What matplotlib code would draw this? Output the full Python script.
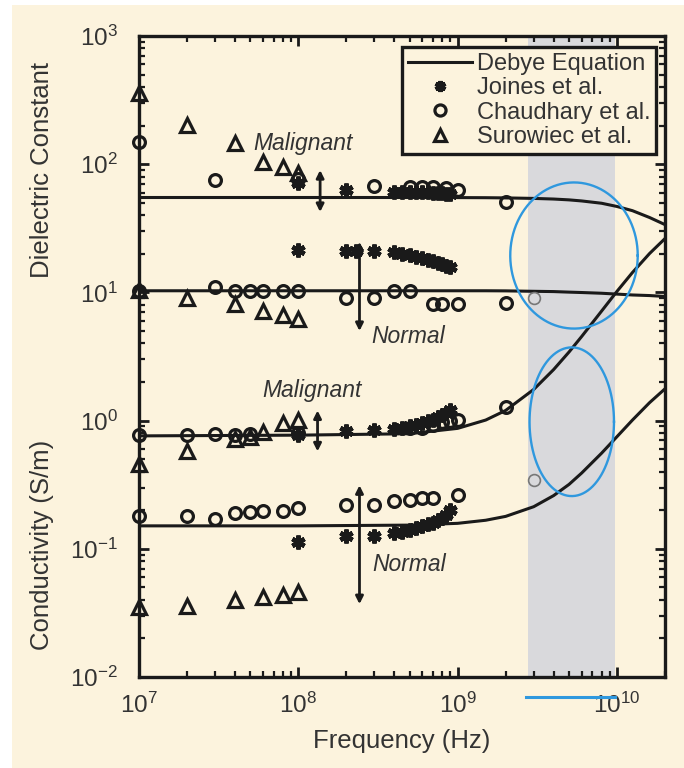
import numpy as np
import matplotlib
matplotlib.use("Agg")
import matplotlib.pyplot as plt
from matplotlib.patches import Rectangle
from matplotlib.lines import Line2D

plt.rcParams['font.family'] = ['Liberation Sans', 'DejaVu Sans']
plt.rcParams['mathtext.fontset'] = 'custom'
plt.rcParams['mathtext.rm'] = 'Liberation Sans'
plt.rcParams['mathtext.default'] = 'regular'

# ---------------- Debye model curves ----------------
debye_freq = [1e7, 1e8, 5e8, 1e9, 1.5e9, 2e9, 3e9, 4e9, 5e9, 6e9, 8e9, 1e10, 1.25e10, 1.6e10, 2e10]
debye_eps_malignant = [55, 55, 55, 54.9, 54.8, 54.6, 54.1, 53.5, 52.7, 51.7, 49.6, 46.8, 43.4, 38.4, 33.8]
debye_eps_normal = [10.3, 10.3, 10.3, 10.3, 10.3, 10.28, 10.2, 10.15, 10.05, 9.98, 9.85, 9.7, 9.55, 9.45, 9.3]
debye_sig_malignant = [0.76, 0.77, 0.79, 0.87, 1.01, 1.2, 1.75, 2.5, 3.43, 4.53, 7.15, 10.2, 14.3, 20.1, 26.3]
debye_sig_normal = [0.151, 0.151, 0.153, 0.158, 0.167, 0.179, 0.213, 0.26, 0.318, 0.39, 0.557, 0.75, 1.01, 1.38, 1.77]

# ---------------- Surowiec et al. ----------------
sur_eps_mal_f = [1e7, 2e7, 4e7, 6e7, 8e7, 1e8]
sur_eps_mal_v = [360, 202, 146, 104, 95, 86]
sur_eps_nor_f = [1e7, 2e7, 4e7, 6e7, 8e7, 1e8]
sur_eps_nor_v = [10.5, 9.1, 8.1, 7.1, 6.7, 6.2]
sur_sig_mal_f = [1e7, 2e7, 4e7, 5e7, 6e7, 8e7, 1e8]
sur_sig_mal_v = [0.46, 0.58, 0.72, 0.74, 0.82, 0.95, 1.02]
sur_sig_nor_f = [1e7, 2e7, 4e7, 6e7, 8e7, 1e8]
sur_sig_nor_v = [0.035, 0.036, 0.040, 0.042, 0.044, 0.046]

# ---------------- Chaudhary et al. ----------------
cha_eps_mal_f = [1e7, 3e7, 1e8, 3e8, 5e8, 6e8, 7e8, 8.5e8, 1e9, 2e9]
cha_eps_mal_v = [149, 75, 76, 68, 66, 66, 66, 65, 63, 51]
cha_eps_nor_f = [1e7, 3e7, 4e7, 5e7, 6e7, 8e7, 1e8, 2e8, 3e8, 4e8, 5e8, 7e8, 8e8, 1e9, 2e9]
cha_eps_nor_v = [10.3, 11.1, 10.2, 10.2, 10.2, 10.2, 10.2, 9.1, 9.1, 10.2, 10.2, 8.1, 8.1, 8.1, 8.3]
cha_sig_mal_f = [1e7, 2e7, 3e7, 4e7, 5e7, 1e8, 5e8, 6e8, 7e8, 8e8, 9e8, 1e9, 2e9]
cha_sig_mal_v = [0.77, 0.77, 0.78, 0.77, 0.78, 0.80, 0.87, 0.88, 0.92, 0.97, 1.0, 1.02, 1.28]
cha_sig_nor_f = [1e7, 2e7, 3e7, 4e7, 5e7, 6e7, 8e7, 1e8, 2e8, 3e8, 4e8, 5e8, 6e8, 7e8, 1e9]
cha_sig_nor_v = [0.180, 0.180, 0.171, 0.190, 0.195, 0.197, 0.197, 0.208, 0.219, 0.219, 0.236, 0.240, 0.249, 0.249, 0.262]

# ---------------- Joines et al. ----------------
joi_eps_mal_f = [1e8, 2e8, 4e8, 4.5e8, 5e8, 5.5e8, 6e8, 6.5e8, 7e8, 7.5e8, 8e8, 8.5e8, 9e8]
joi_eps_mal_v = [71, 63, 61, 61, 61, 61, 61, 61, 60, 60, 60, 59, 59]
joi_eps_nor_f = [1e8, 2e8, 2.3e8, 3e8, 4e8, 4.5e8, 5e8, 5.5e8, 6e8, 6.5e8, 7e8, 7.5e8, 8e8, 8.5e8, 9e8]
joi_eps_nor_v = [21.5, 21, 21, 21, 20.5, 20, 19.5, 19, 18.5, 18, 17.5, 17, 16.6, 16.2, 15.8]
joi_sig_mal_f = [1e8, 2e8, 3e8, 4e8, 4.5e8, 5e8, 5.5e8, 6e8, 6.5e8, 7e8, 7.5e8, 8e8, 8.5e8, 9e8]
joi_sig_mal_v = [0.77, 0.83, 0.84, 0.86, 0.88, 0.9, 0.93, 0.96, 0.99, 1.02, 1.06, 1.1, 1.14, 1.2]
joi_sig_nor_f = [1e8, 2e8, 3e8, 4e8, 4.5e8, 5e8, 5.5e8, 6e8, 6.5e8, 7e8, 7.5e8, 8e8, 8.5e8, 9e8]
joi_sig_nor_v = [0.113, 0.126, 0.125, 0.133, 0.135, 0.14, 0.145, 0.15, 0.155, 0.16, 0.167, 0.175, 0.185, 0.2]

# ---------------- extra measurements inside the shaded band ----------------
band_meas_f = [3e9, 3e9]
band_meas_v = [9.1, 0.343]

# ---------------- spread arrows: (frequency, low, high) ----------------
arrow_f = [1.37e8, 2.42e8, 1.32e8, 2.42e8]
arrow_lo = [42.4, 5.0, 0.575, 0.037]
arrow_hi = [90, 24.8, 1.2, 0.313]

# shaded band and highlight ellipses (centre freq, centre value, half-width and half-height in decades)
band_lo, band_hi = 2.75e9, 9.7e9
ellipse_params = [(5.37e9, 19.4, 0.40, 0.57), (5.2e9, 0.98, 0.265, 0.58)]

region_labels = [("Malignant", 5.2e7, 146), ("Normal", 2.88e8, 4.57),
                 ("Malignant", 5.9e7, 1.73), ("Normal", 2.9e8, 0.0748)]

cream = '#fcf3dd'
ink = '#1a1a1a'
text_col = '#333333'
blue = '#2f98de'

fig = plt.figure(figsize=(6.84, 7.68), dpi=100)
fig.patch.set_facecolor('white')
fig.add_artist(Rectangle((12 / 684, 0), 1, 1 - 5 / 768, transform=fig.transFigure,
                         facecolor=cream, edgecolor='none', zorder=-10))

ax = fig.add_axes([0.2032, 0.1185, 0.769, 0.8346])
ax.set_facecolor(cream)
ax.set_xscale('log')
ax.set_yscale('log')
ax.set_xlim(1e7, 2e10)
ax.set_ylim(1e-2, 1e3)

ax.axvspan(band_lo, band_hi, color='#d9d9dc', zorder=0, lw=0)

lw_curve = 2.2
for ys in (debye_eps_malignant, debye_eps_normal, debye_sig_malignant, debye_sig_normal):
    ax.plot(debye_freq, ys, color=ink, lw=lw_curve, zorder=3)

mk_common = dict(linestyle='none', zorder=4, clip_on=False)
sur_f = sur_eps_mal_f + sur_eps_nor_f + sur_sig_mal_f + sur_sig_nor_f
sur_v = sur_eps_mal_v + sur_eps_nor_v + sur_sig_mal_v + sur_sig_nor_v
ax.plot(sur_f, sur_v, marker='^', ms=9.5, mfc='none', mec=ink, mew=2.3, **mk_common)

cha_f = cha_eps_mal_f + cha_eps_nor_f + cha_sig_mal_f + cha_sig_nor_f
cha_v = cha_eps_mal_v + cha_eps_nor_v + cha_sig_mal_v + cha_sig_nor_v
ax.plot(cha_f, cha_v, marker='o', ms=8.5, mfc='none', mec=ink, mew=2.3, **mk_common)

joi_f = joi_eps_mal_f + joi_eps_nor_f + joi_sig_mal_f + joi_sig_nor_f
joi_v = joi_eps_mal_v + joi_eps_nor_v + joi_sig_mal_v + joi_sig_nor_v
ax.plot(joi_f, joi_v, marker=(6, 2, 0), ms=10, mfc=ink, mec=ink, mew=3.2, **mk_common)

ax.plot(band_meas_f, band_meas_v, linestyle='none', marker='o', ms=8.5, mfc='none',
        mec='#777777', mew=1.2, zorder=4)

for f, lo, hi in zip(arrow_f, arrow_lo, arrow_hi):
    ax.annotate('', xy=(f, hi), xytext=(f, lo),
                arrowprops=dict(arrowstyle='<|-|>', color=ink, lw=2.0,
                                mutation_scale=11, shrinkA=0, shrinkB=0), zorder=5)

for txt, f, v in region_labels:
    ax.text(f, v, txt, fontsize=16.5, style='italic', color=text_col,
            ha='left', va='center', zorder=6)

# highlight ellipses drawn in log space
t = np.linspace(0, 2 * np.pi, 300)
for cf, cv, a, b in ellipse_params:
    ax.plot(10 ** (np.log10(cf) + a * np.cos(t)), 10 ** (np.log10(cv) + b * np.sin(t)),
            color=blue, lw=1.7, zorder=7)

# blue bar under the frequency axis marking the band
ax.plot([band_lo * 0.97, band_hi], [-0.031, -0.031], color=blue, lw=2.2,
        transform=ax.get_xaxis_transform(), clip_on=False, zorder=7)

for s in ax.spines.values():
    s.set_linewidth(2.4)
    s.set_color(ink)
    s.set_zorder(8)
ax.tick_params(which='both', direction='in', top=True, right=True, color=ink,
               labelcolor=text_col, labelsize=17.5)
ax.tick_params(which='major', length=7, width=2.0)
ax.tick_params(axis='x', which='major', pad=11)
ax.tick_params(axis='y', which='major', pad=15)
ax.tick_params(which='minor', length=4, width=1.6)
ax.set_xticks([1e7, 1e8, 1e9, 1e10])
ax.set_yticks([1e-2, 1e-1, 1e0, 1e1, 1e2, 1e3])

ax.set_xlabel('Frequency (Hz)', fontsize=18.5, color=text_col, labelpad=8)
fig.text(42 / 684, 1 - 170 / 768, 'Dielectric Constant', rotation=90, fontsize=18.5,
         color=text_col, ha='center', va='center')
fig.text(42 / 684, 1 - 545 / 768, 'Conductivity (S/m)', rotation=90, fontsize=18.5,
         color=text_col, ha='center', va='center')

handles = [
    Line2D([], [], color=ink, lw=lw_curve),
    Line2D([], [], linestyle='none', marker=(6, 2, 0), ms=8, mfc=ink, mec=ink, mew=3.0),
    Line2D([], [], linestyle='none', marker='o', ms=8, mfc='none', mec=ink, mew=2.3),
    Line2D([], [], linestyle='none', marker='^', ms=9, mfc='none', mec=ink, mew=2.3),
]
labels = ['Debye Equation', 'Joines et al.', 'Chaudhary et al.', 'Surowiec et al.']
leg = ax.legend(handles, labels, loc='upper right', bbox_to_anchor=(0.983, 0.983),
                borderaxespad=0, fontsize=17, frameon=True, fancybox=False,
                edgecolor=ink, facecolor=cream, framealpha=1, labelspacing=0.1,
                handlelength=2.7, handletextpad=0.2, borderpad=0.25)
leg.get_frame().set_linewidth(2.4)
for tx in leg.get_texts():
    tx.set_color(text_col)
leg.set_zorder(9)

fig.savefig('out.png', dpi=100, facecolor=fig.get_facecolor())
